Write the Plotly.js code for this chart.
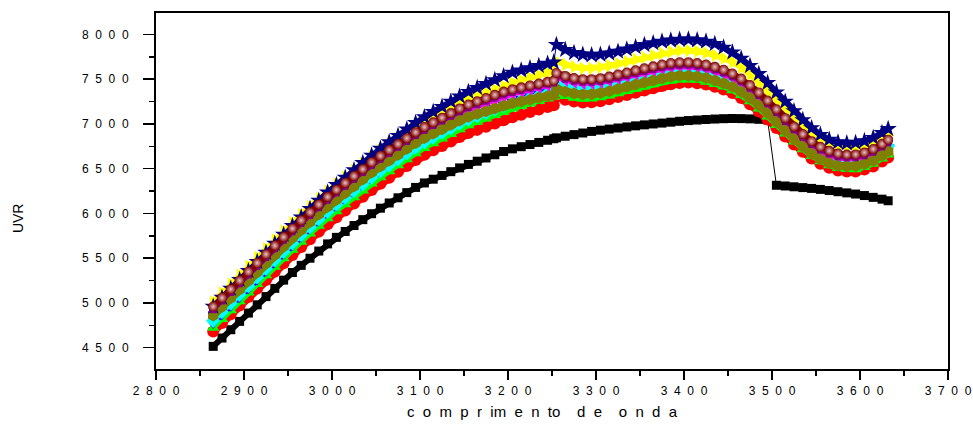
<!DOCTYPE html>
<html><head><meta charset="utf-8">
<script src="https://cdn.plot.ly/plotly-3.0.1.min.js"></script>
<style>html,body{margin:0;padding:0;background:#fff}#chart{width:973px;height:424px}</style>
</head><body><div id="chart"></div>
<script>
// ---- data ----
const xPre = [2865,2875,2885,2895,2905,2915,2925,2935,2945,2955,2965,2975,2985,2995,3005,3015,3025,3035,3045,3055,3065,3075,3085,3095,3105,3115,3125,3135,3145,3155,3165,3175,3185,3195,3205,3215,3225,3235,3245,3252];
const xPost = [3255,3265,3275,3285,3295,3305,3315,3325,3335,3345,3355,3365,3375,3385,3395,3405,3415,3425,3435,3445,3455,3465,3475,3485,3495,3505,3515,3525,3535,3545,3555,3565,3575,3585,3595,3605,3615,3625,3632];

const blackPre = [4515,4608,4701,4794,4887,4979,5071,5163,5255,5340,5420,5500,5580,5660,5733,5799,5865,5931,5997,6059,6117,6175,6233,6291,6341,6383,6425,6467,6509,6548,6584,6620,6656,6692,6722,6746,6770,6794,6818,6835];
const blackPost = [6845,6863,6881,6899,6917,6931,6943,6955,6967,6979,6990,7000,7010,7020,7030,7038,7044,7050,7055,7059,7061,7060,7057,7052,7045,6315,6307,6298,6289,6280,6269,6256,6243,6230,6217,6200,6180,6160,6142];

const redPre = [4680,4777,4874,4971,5067,5162,5256,5350,5443,5535,5624,5712,5797,5880,5958,6034,6110,6186,6262,6333,6399,6465,6531,6597,6655,6705,6755,6805,6855,6898,6934,6970,7006,7042,7075,7104,7133,7162,7190,7210];
const redPost = [7300,7270,7250,7240,7242,7255,7275,7300,7325,7350,7375,7400,7425,7445,7458,7462,7455,7440,7415,7385,7345,7290,7220,7140,7050,6955,6860,6770,6690,6615,6555,6510,6480,6468,6470,6490,6525,6580,6625];

const greenPre = [4720,4818,4917,5015,5113,5210,5306,5402,5497,5591,5682,5772,5859,5944,6023,6100,6177,6254,6331,6403,6470,6537,6604,6671,6730,6782,6834,6886,6938,6983,7021,7059,7097,7135,7170,7199,7227,7255,7282,7300];
const greenPost = [7340,7310,7290,7280,7282,7295,7315,7340,7365,7390,7415,7440,7465,7480,7493,7497,7490,7470,7445,7415,7375,7320,7250,7170,7080,6985,6890,6800,6715,6640,6580,6535,6505,6493,6490,6515,6553,6610,6655];

const bluePre = [4770,4867,4964,5061,5159,5257,5354,5451,5547,5642,5734,5825,5913,5999,6079,6157,6235,6313,6391,6464,6532,6600,6668,6736,6797,6851,6905,6959,7013,7060,7100,7140,7180,7220,7255,7284,7313,7342,7370,7390];
const bluePost = [7480,7447,7424,7411,7411,7432,7450,7473,7496,7520,7543,7564,7585,7601,7610,7611,7602,7585,7558,7526,7484,7427,7355,7273,7181,7084,6985,6891,6807,6728,6665,6620,6590,6578,6580,6602,6640,6698,6745];

const cyanPre = [4800,4897,4994,5091,5188,5285,5381,5477,5572,5666,5757,5847,5934,6019,6098,6174,6250,6326,6402,6473,6539,6605,6671,6737,6796,6848,6900,6952,7004,7049,7087,7125,7163,7201,7235,7262,7289,7316,7342,7360];
const cyanPost = [7470,7437,7414,7401,7401,7422,7440,7463,7486,7510,7533,7554,7575,7591,7600,7601,7592,7575,7548,7516,7474,7417,7345,7263,7171,7074,6975,6881,6797,6718,6655,6610,6580,6568,6570,6597,6640,6703,6755];

const magentaPre = [4900,4997,5094,5191,5289,5387,5484,5581,5677,5772,5863,5953,6040,6125,6204,6281,6358,6435,6512,6583,6649,6715,6781,6847,6906,6958,7010,7062,7114,7158,7194,7230,7266,7302,7333,7357,7381,7405,7428,7445];
const magentaPost = [7520,7487,7464,7451,7451,7462,7480,7503,7526,7550,7573,7594,7615,7631,7640,7641,7632,7615,7588,7556,7514,7457,7385,7303,7211,7114,7015,6921,6837,6758,6695,6650,6620,6608,6610,6634,6675,6736,6785];

const yellowPre = [5010,5110,5210,5310,5409,5508,5606,5704,5801,5896,5987,6077,6164,6249,6328,6405,6482,6559,6636,6708,6773,6838,6903,6968,7026,7078,7130,7182,7234,7278,7315,7352,7389,7426,7460,7489,7518,7547,7575,7595];
const yellowPost = [7700,7664,7638,7622,7621,7633,7651,7674,7697,7721,7744,7767,7790,7808,7819,7821,7812,7795,7768,7736,7694,7633,7557,7471,7375,7274,7173,7077,6991,6910,6844,6795,6760,6743,6740,6755,6785,6835,6875];

const olivePre = [4860,4957,5054,5151,5247,5344,5440,5536,5631,5725,5815,5904,5990,6074,6153,6229,6305,6381,6457,6527,6592,6657,6722,6787,6844,6893,6942,6991,7040,7080,7111,7142,7173,7204,7232,7252,7272,7292,7311,7325];
const olivePost = [7390,7360,7340,7330,7332,7345,7365,7390,7415,7440,7463,7486,7509,7527,7538,7540,7531,7514,7487,7455,7415,7360,7290,7210,7120,7023,6924,6830,6746,6667,6605,6562,6534,6525,6530,6552,6590,6648,6695];

const navyPre = [4960,5060,5160,5260,5359,5461,5562,5663,5763,5862,5958,6053,6145,6235,6320,6402,6484,6566,6648,6725,6797,6869,6941,7013,7077,7135,7193,7251,7309,7360,7404,7448,7492,7536,7575,7600,7625,7650,7674,7690];
const navyPost = [7885,7830,7795,7775,7770,7775,7790,7810,7835,7860,7885,7905,7922,7935,7943,7945,7938,7922,7895,7855,7800,7730,7650,7560,7460,7355,7250,7145,7045,6955,6880,6825,6795,6785,6790,6810,6845,6900,6945];

const purplePre = [4930,5027,5124,5221,5319,5417,5514,5611,5707,5802,5893,5983,6070,6155,6234,6311,6388,6465,6542,6613,6679,6745,6811,6877,6936,6988,7040,7092,7144,7188,7224,7260,7296,7332,7358,7381,7404,7427,7449,7465];
const purplePost = [7540,7507,7484,7471,7471,7482,7500,7523,7546,7570,7593,7614,7635,7651,7660,7661,7652,7635,7608,7576,7534,7477,7405,7323,7231,7134,7035,6941,6857,6778,6715,6670,6640,6628,6630,6652,6690,6748,6795];

const winePre = [4960,5057,5154,5251,5349,5447,5544,5641,5737,5832,5923,6013,6100,6185,6264,6341,6418,6495,6572,6643,6709,6775,6841,6907,6966,7018,7070,7122,7174,7218,7254,7290,7326,7362,7387,7409,7431,7451,7471,7485];
const winePost = [7570,7537,7514,7501,7501,7512,7530,7553,7576,7600,7623,7644,7665,7681,7690,7691,7682,7665,7638,7606,7564,7507,7435,7353,7261,7164,7065,6971,6887,6808,6745,6700,6670,6658,6660,6682,6720,6778,6825];

const xTickVals = [2800,2900,3000,3100,3200,3300,3400,3500,3600,3700];
const xTickLabels = ['2800','2900','3000','3100','3200','3300','3400','3500','3600','3700'];
const yTickVals = [4500,5000,5500,6000,6500,7000,7500,8000];
const yTickLabels = ['4500','5000','5500','6000','6500','7000','7500','8000'];

const xTitle = 'comprimento de onda';
const yTitle = 'UVR';

// ---- styles ----
const NB = '\u00a0';
function spaced(s){ return s.split('').join(NB+NB); }
const xTitleSpaced = 'c'+NB+NB+'o'+NB+NB+'m'+NB+NB+'p'+NB+NB+'r'+NB+NB+'im'+NB+NB+'e'+NB+NB+'n'+NB+NB+'to'+NB+NB+NB+NB+'d'+NB+NB+'e'+NB+NB+NB+NB+'o'+NB+NB+'n'+NB+NB+'d'+NB+NB+'a';

const series = [
  {pre: blackPre,   post: blackPost,   color:'#000000', symbol:'square',        size:9,  lw:6, black:true},
  {pre: redPre,     post: redPost,     color:'#ff0000', symbol:'circle',        size:12, lw:8},
  {pre: greenPre,   post: greenPost,   color:'#00ff00', symbol:'triangle-up',   size:11, lw:5},
  {pre: bluePre,    post: bluePost,    color:'#0000ff', symbol:'triangle-down', size:11, lw:5},
  {pre: cyanPre,    post: cyanPost,    color:'#00ffff', symbol:'diamond',       size:11, lw:5},
  {pre: magentaPre, post: magentaPost, color:'#ff00ff', symbol:'triangle-left', size:11, lw:5},
  {pre: yellowPre,  post: yellowPost,  color:'#ffff00', symbol:'triangle-right',size:12, lw:6},
  {pre: olivePre,   post: olivePost,   color:'#808000', symbol:'hexagon',       size:12, lw:8},
  {pre: navyPre,    post: navyPost,    color:'#000080', symbol:'star',          size:13, lw:6},
  {pre: purplePre,  post: purplePost,  color:'#800080', symbol:'pentagon',      size:10, lw:5},
  {pre: winePre,    post: winePost,    color:'#800000', symbol:'circle',        size:10, lw:6, sphere:true}
];

const traces = [];
function seg(x, y, s){
  const m = {symbol: s.symbol, size: s.size, color: s.color, line:{width:0}};
  if (s.sphere) m.gradient = {type:'radial', color:'#e8c8c8'};
  return {type:'scatter', mode:'lines+markers', x:x, y:y, showlegend:false, hoverinfo:'skip',
          line:{color:s.color, width:s.lw}, marker:m};
}
function conn(x, y, s){
  return {type:'scatter', mode:'lines', x:x, y:y, showlegend:false, hoverinfo:'skip', line:{color:s.color, width:1}};
}
series.forEach(s => {
  if (s.black) {
    const cut = xPost.indexOf(3505);
    const xa = xPre.concat(xPost.slice(0, cut)), ya = s.pre.concat(s.post.slice(0, cut));
    const xb = xPost.slice(cut), yb = s.post.slice(cut);
    traces.push(conn([xa[xa.length-1], xb[0]], [ya[ya.length-1], yb[0]], s));
    traces.push(seg(xa, ya, s));
    traces.push(seg(xb, yb, s));
  } else {
    traces.push(conn([xPre[xPre.length-1], xPost[0]], [s.pre[s.pre.length-1], s.post[0]], s));
    traces.push(seg(xPre, s.pre, s));
    traces.push(seg(xPost, s.post, s));
  }
});

const font = {family:'Liberation Sans, Arial, sans-serif', color:'#000', size:12};
const layout = {
  width:973, height:424,
  margin:{l:156, r:25, t:13, b:55, pad:0},
  paper_bgcolor:'#fff', plot_bgcolor:'#fff',
  font: font,
  showlegend:false,
  xaxis:{range:[2800,3700], tickvals:xTickVals, ticktext:xTickLabels.map(spaced),
         ticks:'outside', ticklen:9, tickwidth:1.5, tickcolor:'#000',
         minor:{dtick:50, tick0:2800, ticks:'outside', ticklen:5, tickwidth:1.5, tickcolor:'#000'},
         showline:true, linecolor:'#000', linewidth:2, mirror:true,
         showgrid:false, zeroline:false, tickfont:font, ticklabelstandoff:1},
  yaxis:{range:[4262,8240], tickvals:yTickVals, ticktext:yTickLabels.map(spaced),
         ticks:'outside', ticklen:11, tickwidth:1.5, tickcolor:'#000',
         minor:{dtick:250, tick0:4250, ticks:'outside', ticklen:5, tickwidth:1.5, tickcolor:'#000'},
         showline:true, linecolor:'#000', linewidth:2, mirror:true,
         showgrid:false, zeroline:false, tickfont:font, ticklabelstandoff:12},
  annotations:[
    {text:xTitleSpaced, xref:'paper', yref:'paper', x:0.488, y:-0.118, xanchor:'center', yanchor:'middle',
     showarrow:false, font:{family:'Liberation Sans, Arial, sans-serif', size:15, color:'#000'}},
    {text:yTitle, xref:'paper', yref:'paper', x:-0.1742, y:0.424, xanchor:'center', yanchor:'middle',
     textangle:-90, showarrow:false, font:{family:'Liberation Sans, Arial, sans-serif', size:14, color:'#000'}}
  ]
};
Plotly.newPlot('chart', traces, layout, {staticPlot:true, displayModeBar:false});
</script>
</body></html>
